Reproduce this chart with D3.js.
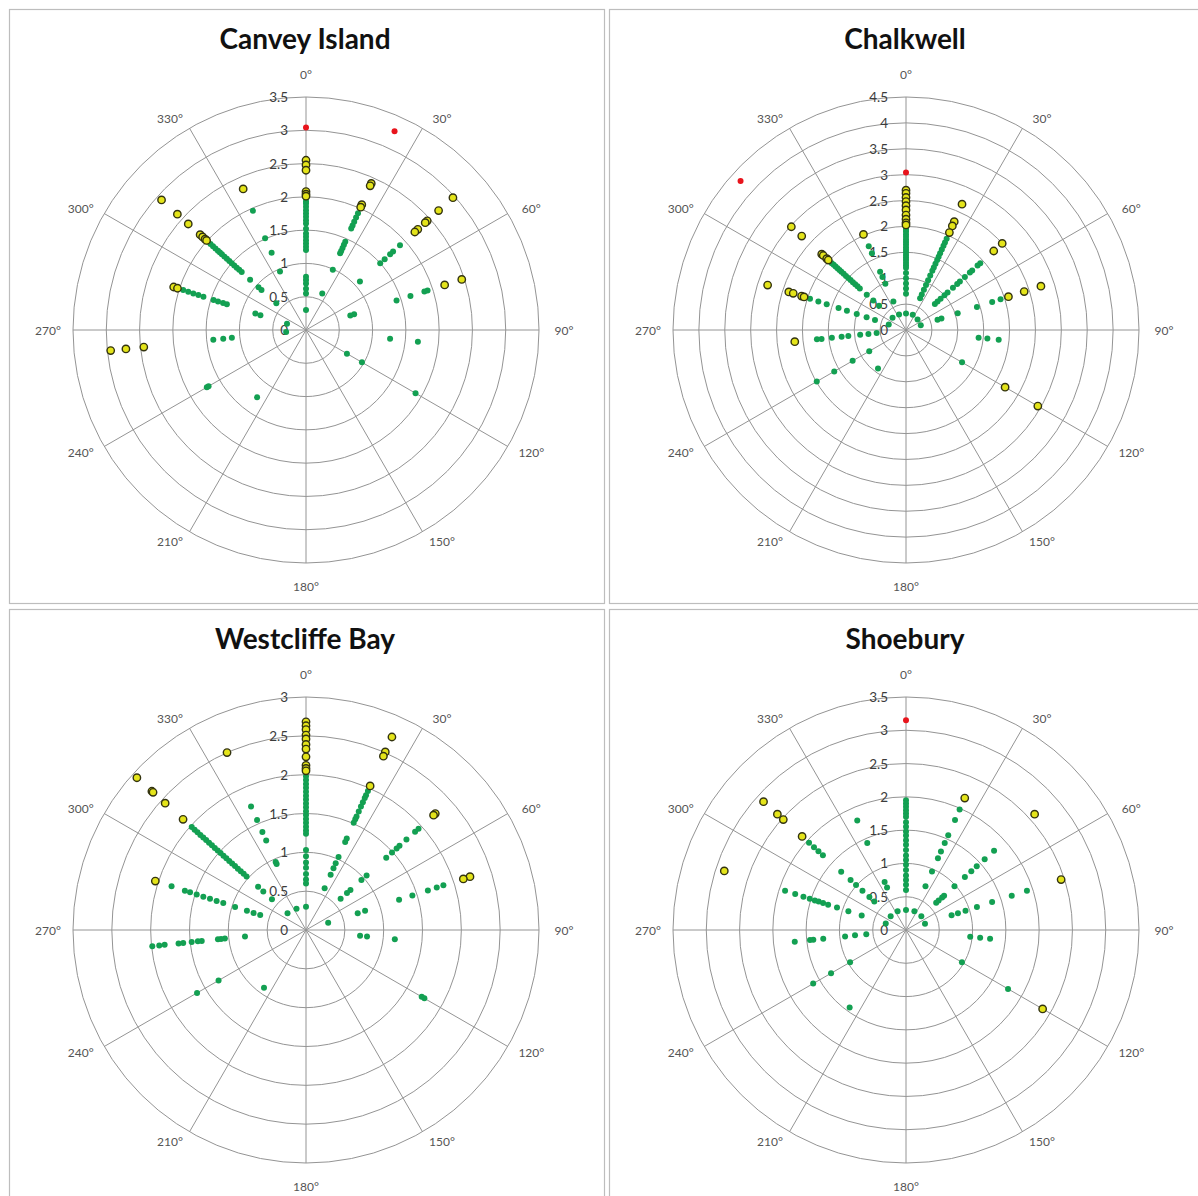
<!DOCTYPE html>
<html><head><meta charset="utf-8">
<script src="https://cdn.jsdelivr.net/npm/d3@7"></script>
<style>
  body { margin: 0; background: #fff; }
  svg { display: block; }
</style>
</head><body>
<svg id="chart" width="1198" height="1196"></svg>
<script>
// Wave height readings by direction (degrees) for four sites.
// Each row: [direction, value, value, ...]
const canveyIsland = [
  [0, 3.04, 2.55, 2.48, 2.40, 2.08, 2.04, 2.01, 1.97, 1.93, 1.90, 1.85, 1.80, 1.75, 1.70, 1.65, 1.60, 1.52, 1.45, 1.40, 1.35, 1.30, 1.25, 1.20, 0.80, 0.75, 0.70, 0.62, 0.55, 0.30],
  [24, 3.27, 2.41, 2.37, 2.06, 2.02, 1.92, 1.85, 1.78, 1.72, 1.67, 1.45, 1.40, 1.35, 1.30, 1.26, 0.99, 0.60],
  [48, 2.97, 2.68, 2.45, 2.41, 2.26, 2.20, 1.90, 1.76, 1.70, 1.59, 1.50, 1.09],
  [72, 2.46, 2.19, 1.92, 1.87, 1.65, 1.43, 0.76, 0.70],
  [96, 1.69, 1.27],
  [120, 1.90, 0.97, 0.71],
  [216, 1.25],
  [240, 1.72, 1.69],
  [264, 2.95, 2.72, 2.45, 1.40, 1.25, 1.12, 0.30],
  [288, 2.09, 2.03, 1.94, 1.86, 1.78, 1.70, 1.62, 1.46, 1.39, 1.31, 1.25, 0.80, 0.72, 0.30],
  [312, 2.92, 2.60, 2.38, 2.14, 2.09, 2.04, 2.01, 1.98, 1.93, 1.88, 1.83, 1.78, 1.74, 1.70, 1.65, 1.60, 1.55, 1.50, 1.45, 1.40, 1.35, 1.30, 1.13, 0.96, 0.90, 0.60],
  [336, 2.32, 1.96, 1.51, 1.27, 0.96]
];

const chalkwell = [
  [0, 3.04, 2.70, 2.64, 2.56, 2.48, 2.40, 2.32, 2.22, 2.14, 2.07, 2.03, 1.98, 1.94, 1.90, 1.85, 1.80, 1.75, 1.70, 1.65, 1.60, 1.55, 1.50, 1.45, 1.40, 1.35, 1.30, 1.25, 1.20, 1.10, 1.00, 0.90, 0.80, 0.70, 0.32],
  [24, 2.66, 2.29, 2.20, 2.06, 1.93, 1.85, 1.78, 1.70, 1.62, 1.55, 1.48, 1.40, 1.32, 1.25, 1.15, 1.05, 0.95, 0.85, 0.75, 0.67, 0.32],
  [48, 2.50, 2.28, 1.93, 1.86, 1.72, 1.66, 1.53, 1.40, 1.33, 1.22, 1.08, 1.00, 0.90, 0.82, 0.75, 0.30],
  [72, 2.74, 2.40, 2.08, 1.92, 1.75, 1.44, 1.05, 0.72, 0.64, 0.30],
  [96, 1.80, 1.58, 1.41],
  [120, 2.94, 2.21, 1.25],
  [216, 0.92],
  [240, 1.99, 1.60, 1.19, 0.82],
  [264, 2.16, 1.73, 1.64, 1.44, 1.25, 1.12, 0.89, 0.73, 0.57],
  [288, 2.81, 2.38, 2.29, 2.12, 2.07, 1.95, 1.78, 1.61, 1.37, 1.20, 1.00, 0.80, 0.63, 0.35],
  [312, 4.30, 2.98, 2.71, 2.19, 2.15, 2.06, 2.02, 1.93, 1.88, 1.83, 1.78, 1.73, 1.68, 1.62, 1.56, 1.50, 1.44, 1.38, 1.32, 1.26, 1.20, 1.02, 0.85, 0.70, 0.35],
  [336, 2.02, 1.77, 1.62, 1.23, 1.12, 0.98, 0.60, 0.33]
];

const westcliffeBay = [
  [0, 2.68, 2.63, 2.58, 2.51, 2.46, 2.39, 2.33, 2.23, 2.12, 2.08, 2.05, 1.98, 1.93, 1.88, 1.83, 1.78, 1.73, 1.68, 1.63, 1.58, 1.53, 1.48, 1.43, 1.38, 1.33, 1.28, 1.24, 1.03, 0.95, 0.87, 0.80, 0.72, 0.65, 0.60, 0.30],
  [24, 2.72, 2.51, 2.45, 2.03, 1.96, 1.90, 1.86, 1.80, 1.74, 1.67, 1.60, 1.56, 1.51, 1.29, 1.24, 1.03, 0.94, 0.87, 0.78, 0.59],
  [48, 2.24, 2.21, 1.95, 1.89, 1.74, 1.62, 1.57, 1.49, 1.39, 1.05, 0.96, 0.77, 0.71, 0.60],
  [72, 2.22, 2.13, 1.86, 1.77, 1.65, 1.44, 1.26, 0.80, 0.70, 0.30],
  [96, 1.15, 0.79, 0.70],
  [120, 1.76, 1.72],
  [216, 0.92],
  [240, 1.62, 1.30],
  [264, 1.99, 1.90, 1.83, 1.65, 1.59, 1.48, 1.40, 1.35, 1.14, 1.10, 1.05, 0.79],
  [288, 2.04, 1.82, 1.64, 1.57, 1.48, 1.39, 1.30, 1.21, 1.12, 0.96, 0.80, 0.71, 0.62],
  [312, 2.93, 2.67, 2.65, 2.44, 2.13, 1.98, 1.93, 1.88, 1.83, 1.78, 1.73, 1.68, 1.63, 1.58, 1.53, 1.48, 1.43, 1.38, 1.33, 1.28, 1.23, 1.18, 1.13, 1.08, 1.03, 0.83, 0.74, 0.59, 0.32],
  [336, 2.50, 1.74, 1.55, 1.38, 1.26, 0.96, 0.93, 0.30]
];

const shoebury = [
  [0, 3.15, 1.95, 1.90, 1.85, 1.80, 1.75, 1.70, 1.62, 1.55, 1.48, 1.42, 1.35, 1.28, 1.20, 1.12, 1.05, 0.98, 0.90, 0.82, 0.75, 0.68, 0.60, 0.30],
  [24, 2.17, 1.98, 1.81, 1.56, 1.43, 1.29, 1.18, 0.96, 0.72, 0.31],
  [48, 2.60, 1.78, 1.59, 1.43, 1.32, 1.19, 0.98, 0.77, 0.73, 0.66, 0.61, 0.31],
  [72, 2.45, 1.91, 1.67, 1.36, 1.12, 0.94, 0.82, 0.72, 0.30],
  [96, 1.27, 1.12, 0.97],
  [120, 2.37, 1.77, 0.97],
  [216, 1.44],
  [240, 1.61, 1.30, 0.97],
  [264, 1.68, 1.45, 1.40, 1.25, 0.92, 0.77, 0.60],
  [288, 2.87, 1.91, 1.75, 1.62, 1.52, 1.44, 1.38, 1.31, 1.23, 1.09, 0.91, 0.70, 0.32],
  [312, 2.88, 2.60, 2.48, 2.10, 1.96, 1.86, 1.77, 1.68, 1.31, 1.12, 1.01, 0.88, 0.74, 0.64, 0.31],
  [336, 1.80, 1.43, 0.79, 0.70, 0.31]
];

// Radial axis ticks for each site
const canveyTicks = [0, 0.5, 1, 1.5, 2, 2.5, 3, 3.5];
const chalkwellTicks = [0, 0.5, 1, 1.5, 2, 2.5, 3, 3.5, 4, 4.5];
const westcliffeTicks = [0, 0.5, 1, 1.5, 2, 2.5, 3];
const shoeburyTicks = [0, 0.5, 1, 1.5, 2, 2.5, 3, 3.5];

// Angular gridlines / labels
const angleTicks = [0, 30, 60, 90, 120, 150, 180, 210, 240, 270, 300, 330];

// Thresholds separating the marker classes
const amberLevel = 2;
const redLevel = 3;

const panels = [
  { title: "Canvey Island", rows: canveyIsland, ticks: canveyTicks, col: 0, row: 0 },
  { title: "Chalkwell", rows: chalkwell, ticks: chalkwellTicks, col: 1, row: 0 },
  { title: "Westcliffe Bay", rows: westcliffeBay, ticks: westcliffeTicks, col: 0, row: 1 },
  { title: "Shoebury", rows: shoebury, ticks: shoeburyTicks, col: 1, row: 1 }
];

const svg = d3.select("#chart");
const panelW = 595, panelH = 594, outerR = 233;
const rad = d => d * Math.PI / 180;
const gridColour = "#949494";

panels.forEach(p => {
  const x0 = 9 + p.col * 600, y0 = 9 + p.row * 600;
  const cx = x0 + 297, cy = y0 + 321;

  svg.append("rect")
    .attr("x", x0 + 0.5).attr("y", y0 + 0.5)
    .attr("width", panelW).attr("height", panelH)
    .attr("fill", "#fff").attr("stroke", "#bdbdbd").attr("stroke-width", 1.2);

  const g = svg.append("g").attr("transform", `translate(${cx},${cy})`);

  const r = d3.scaleLinear().domain([0, d3.max(p.ticks)]).range([0, outerR]);

  // rings
  g.selectAll("circle.ring").data(p.ticks.filter(t => t > 0)).join("circle")
    .attr("class", "ring")
    .attr("r", d => r(d))
    .attr("fill", "none").attr("stroke", gridColour).attr("stroke-width", 1);

  // spokes
  g.selectAll("line.spoke").data(angleTicks).join("line")
    .attr("class", "spoke")
    .attr("x1", 0).attr("y1", 0)
    .attr("x2", d => d3.pointRadial(rad(d), outerR)[0])
    .attr("y2", d => d3.pointRadial(rad(d), outerR)[1])
    .attr("stroke", gridColour).attr("stroke-width", 1);

  // angle labels
  g.selectAll("text.ang").data(angleTicks).join("text")
    .attr("class", "ang")
    .attr("x", d => {
      const s = Math.sin(rad(d));
      const sg = Math.abs(s) < 1e-6 ? 0 : Math.sign(s);
      return d3.pointRadial(rad(d), 244)[0] + 14 * sg;
    })
    .attr("y", d => {
      const c = Math.cos(rad(d));
      const sg = Math.abs(c) > 0.99 ? Math.sign(c) : 0;
      return d3.pointRadial(rad(d), 244)[1] - 12 * sg;
    })
    .attr("text-anchor", "middle").attr("dominant-baseline", "central")
    .attr("font-family", "Lato, 'Open Sans', sans-serif").attr("font-size", 12)
    .attr("fill", "#555")
    .text(d => d + "°");

  // radial tick labels
  g.selectAll("text.rt").data(p.ticks).join("text")
    .attr("class", "rt")
    .attr("x", -18).attr("y", d => -r(d))
    .attr("text-anchor", "end").attr("dominant-baseline", "central")
    .attr("font-family", "Lato, 'Open Sans', sans-serif").attr("font-size", 13.5)
    .attr("fill", "#3c3c3c")
    .text(d => d);

  // markers
  const pts = [];
  p.rows.forEach(row => {
    const dir = row[0];
    row.slice(1).forEach(v => pts.push({ dir, v }));
  });
  const cls = v => v >= redLevel ? 2 : v >= amberLevel ? 1 : 0;
  pts.sort((a, b) => cls(a.v) - cls(b.v));

  g.selectAll("circle.pt").data(pts).join("circle")
    .attr("class", "pt")
    .attr("cx", d => d3.pointRadial(rad(d.dir), r(d.v))[0])
    .attr("cy", d => d3.pointRadial(rad(d.dir), r(d.v))[1])
    .attr("r", d => [3.0, 3.7, 3.0][cls(d.v)])
    .attr("fill", d => ["#13a052", "#e4e41a", "#e8141c"][cls(d.v)])
    .attr("stroke", d => cls(d.v) === 1 ? "#333310" : "none")
    .attr("stroke-width", 1.4);

  // title
  svg.append("text")
    .attr("x", cx - 1).attr("y", y0 + 40)
    .attr("text-anchor", "middle")
    .attr("font-family", "Lato, 'Open Sans', sans-serif").attr("font-weight", 700)
    .attr("font-size", 28).attr("fill", "#111")
    .text(p.title);
});
</script>
</body></html>
